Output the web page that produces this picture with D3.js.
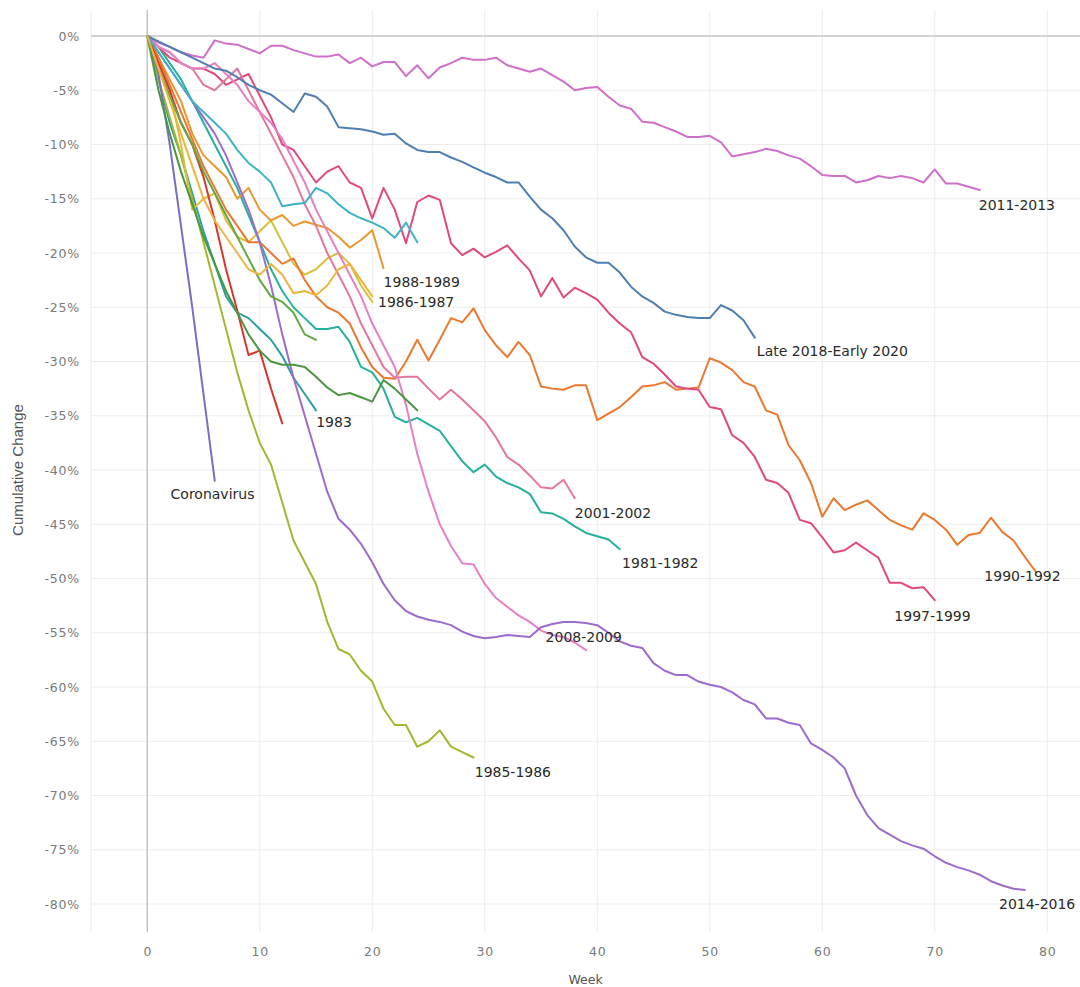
<!DOCTYPE html>
<html><head><meta charset="utf-8">
<script src="https://cdn.jsdelivr.net/npm/d3@7/dist/d3.min.js"></script>
<style>body{margin:0;background:#fff;} svg{display:block;}</style>
</head><body><svg id="chart" width="1080" height="987"></svg>
<script>
// ---------- data ----------
const weekTicks = [0, 10, 20, 30, 40, 50, 60, 70, 80];
const changeTicks = [0, -5, -10, -15, -20, -25, -30, -35, -40, -45, -50, -55, -60, -65, -70, -75, -80];

// weekly cumulative change (%), index = week
const coronavirus = [0, -3.5, -10, -17.5, -25, -33, -41];
const crash1985_1986 = [0, -4, -7.5, -11, -15, -19, -23, -27, -31, -34.5, -37.5, -39.5, -43, -46.5, -48.5, -50.5, -54, -56.5, -57, -58.5, -59.5, -62, -63.5, -63.5, -65.5, -65, -64, -65.5, -66, -66.5];
const crash2014_2016 = [0, -1.5, -3, -4.5, -6, -7.5, -9, -11, -13.5, -16, -19, -23, -27.5, -31.5, -35, -38.5, -42, -44.5, -45.5, -46.8, -48.5, -50.5, -52, -53, -53.5, -53.8, -54, -54.3, -54.9, -55.3, -55.5, -55.4, -55.2, -55.3, -55.4, -54.5, -54.2, -54, -54, -54.1, -54.3, -55, -55.8, -56.2, -56.4, -57.8, -58.5, -58.9, -58.9, -59.5, -59.8, -60, -60.5, -61.2, -61.6, -62.9, -62.9, -63.3, -63.5, -65.2, -65.8, -66.5, -67.5, -70, -71.8, -73, -73.6, -74.2, -74.6, -74.9, -75.6, -76.2, -76.6, -76.9, -77.3, -77.9, -78.3, -78.6, -78.7];
const crash2008_2009 = [0, -1, -1.5, -2.5, -3, -3, -2.5, -3.5, -4.5, -6, -7, -8, -9.5, -11.5, -13.5, -16, -18, -20, -22, -24, -26.5, -28.5, -30.5, -34, -38.5, -42, -45, -47, -48.6, -48.7, -50.5, -51.8, -52.6, -53.4, -54, -54.8, -55.2, -55.4, -55.9, -56.6];
const crash2001_2002 = [0, -1, -1.5, -2.5, -3, -4.5, -5, -4, -3, -5, -7, -9, -11, -13, -15.5, -17.5, -20, -22, -24, -26.5, -28.5, -30.5, -31.5, -31.4, -31.4, -32.5, -33.5, -32.6, -33.5, -34.5, -35.5, -37, -38.8, -39.5, -40.5, -41.6, -41.7, -40.9, -42.6];
const crash1997_1999 = [0, -1, -2, -2.5, -3, -3, -3.5, -4.5, -4, -3.5, -5.5, -7.5, -10, -10.5, -12, -13.5, -12.5, -12, -13.5, -14, -16.8, -14, -16, -19.1, -15.3, -14.7, -15.1, -19.1, -20.2, -19.6, -20.4, -19.9, -19.3, -20.5, -21.6, -24, -22.3, -24.1, -23.2, -23.7, -24.3, -25.5, -26.5, -27.3, -29.6, -30.2, -31.2, -32.3, -32.5, -32.6, -34.2, -34.4, -36.8, -37.5, -38.8, -40.9, -41.2, -42.1, -44.6, -44.9, -46.2, -47.6, -47.4, -46.7, -47.4, -48.1, -50.4, -50.4, -50.9, -50.8, -52];
const crash2011_2013 = [0, -0.6, -1, -1.5, -1.8, -2, -0.4, -0.7, -0.8, -1.2, -1.6, -0.9, -0.9, -1.3, -1.6, -1.9, -1.9, -1.7, -2.5, -2, -2.8, -2.4, -2.4, -3.7, -2.7, -3.9, -2.9, -2.5, -2, -2.2, -2.2, -2, -2.7, -3, -3.3, -3, -3.6, -4.2, -5, -4.8, -4.7, -5.6, -6.4, -6.7, -7.9, -8, -8.4, -8.8, -9.3, -9.3, -9.2, -9.8, -11.1, -10.9, -10.7, -10.4, -10.6, -11, -11.3, -12, -12.8, -12.9, -12.9, -13.5, -13.3, -12.9, -13.1, -12.9, -13.1, -13.5, -12.3, -13.6, -13.6, -13.9, -14.2];
const crash2018_2020 = [0, -0.5, -1, -1.5, -2, -2.5, -3, -3.2, -3.8, -4.5, -5, -5.4, -6.2, -7, -5.3, -5.6, -6.5, -8.4, -8.5, -8.6, -8.8, -9.1, -9, -9.9, -10.5, -10.7, -10.7, -11.2, -11.6, -12.1, -12.6, -13, -13.5, -13.5, -14.8, -16, -16.8, -17.9, -19.4, -20.4, -20.9, -20.9, -21.8, -23.1, -24, -24.6, -25.4, -25.7, -25.9, -26, -26, -24.8, -25.3, -26.2, -27.8];
const crash1990_1992 = [0, -2, -4.5, -7, -9.5, -12, -14, -16, -17.5, -19, -19, -20, -21, -20.5, -22.5, -24, -25, -25.5, -26.5, -28.7, -30.5, -31.5, -31.6, -30, -28, -29.9, -28, -26, -26.4, -25.1, -27.1, -28.5, -29.6, -28.2, -29.4, -32.3, -32.5, -32.6, -32.2, -32.2, -35.4, -34.8, -34.2, -33.3, -32.3, -32.2, -31.9, -32.6, -32.5, -32.4, -29.7, -30.1, -30.8, -31.9, -32.3, -34.5, -34.9, -37.7, -39.1, -41.2, -44.3, -42.6, -43.7, -43.2, -42.8, -43.7, -44.6, -45.1, -45.5, -44, -44.6, -45.5, -46.9, -46, -45.8, -44.4, -45.7, -46.5, -48, -49.4];
const crash1981_1982 = [0, -1, -2.5, -4, -6, -8, -10, -12, -14, -16.5, -19, -21.5, -23.5, -25, -26, -27, -27, -26.8, -28.2, -30.5, -31, -32.5, -35.1, -35.6, -35.2, -35.8, -36.4, -37.8, -39.2, -40.2, -39.5, -40.6, -41.2, -41.6, -42.2, -43.9, -44, -44.5, -45.2, -45.8, -46.1, -46.4, -47.3];
const crash1983 = [0, -4, -8, -11, -14.5, -18, -21, -24, -25.5, -26, -27, -28, -29.5, -31.5, -33, -34.5];
const crash1988_1989 = [0, -2, -4, -6, -9, -11, -12, -13, -15, -14, -16, -17, -16.5, -17.5, -17.1, -17.4, -17.7, -18.5, -19.5, -18.8, -17.9, -21.4];
const crash1986_1987 = [0, -2, -5, -10, -16, -15, -14.5, -17, -18.5, -19, -18, -17, -19, -21, -22, -21.5, -20.5, -20, -21, -23, -24.5];
const unlabeledRed = [0, -2.5, -5, -8, -10, -13, -17, -21.5, -25.3, -29.4, -29, -32.5, -35.7];
const unlabeledCyan = [0, -1.5, -3, -4.5, -6, -7, -8, -9, -10.5, -11.7, -12.5, -13.5, -15.7, -15.5, -15.4, -14, -14.5, -15.5, -16.3, -16.8, -17.2, -17.7, -18.6, -17.2, -19];
const unlabeledGreen = [0, -3, -5.5, -8, -10, -12.5, -14.5, -16.5, -18.5, -20.5, -22.5, -24, -24.5, -25.5, -27.5, -28];
const unlabeledDarkGreen = [0, -5, -9, -12.5, -15.5, -18.5, -21, -23.5, -25.5, -27.5, -29, -30, -30.3, -30.3, -30.5, -31.4, -32.4, -33.1, -32.9, -33.3, -33.7, -31.7, -32.5, -33.5, -34.5];
const unlabeledGold = [0, -3, -6, -9, -12, -15, -17, -18.5, -20, -21.5, -22, -21, -22, -23.7, -23.5, -23.9, -23, -21.5, -21, -22.5, -24];

const seriesNames = ["1981-1982", "1983", "1985-1986", "1986-1987", "1988-1989", "1990-1992", "1997-1999", "2001-2002", "2008-2009", "2011-2013", "2014-2016", "Late 2018-Early 2020", "Coronavirus", "", "", "", "", ""];
const seriesValues = [crash1981_1982, crash1983, crash1985_1986, crash1986_1987, crash1988_1989, crash1990_1992, crash1997_1999, crash2001_2002, crash2008_2009, crash2011_2013, crash2014_2016, crash2018_2020, coronavirus, unlabeledRed, unlabeledCyan, unlabeledGreen, unlabeledDarkGreen, unlabeledGold];
const seriesColors = ["#27b09c", "#2a9fa6", "#a8b52e", "#d8c03a", "#e99830", "#ec772e", "#e1487c", "#e4769f", "#e77fc4", "#cf6fca", "#9c6bcc", "#4f7fb1", "#7a6fc2", "#d7362d", "#3cb4c6", "#63a843", "#4b9640", "#eeb43e"];
// label anchor (week, change %) for each named series
const labelWeeks = [45.6, 16.6, 32.5, 23.9, 24.4, 77.8, 69.8, 41.4, 38.8, 77.3, 79.1, 60.9, 5.8];
const labelChanges = [-48.6, -35.6, -67.8, -24.5, -22.7, -49.8, -53.5, -44.0, -55.4, -15.6, -80.0, -29.0, -42.2];

// ---------- drawing ----------
const svg = d3.select("#chart");
const x = d3.scaleLinear().domain([-5, 85]).range([91, 1103.5]);
const y = d3.scaleLinear().domain([0, -80]).range([36, 904]);
const panelTop = y(2.4), panelBottom = y(-82.6), panelLeft = x(-5), panelRight = 1080;

const grid = svg.append("g");
grid.selectAll(".vg").data(weekTicks).join("line")
  .attr("x1", d => x(d)).attr("x2", d => x(d)).attr("y1", panelTop).attr("y2", panelBottom)
  .attr("stroke", "#ececec").attr("stroke-width", 1);
grid.selectAll(".hg").data(changeTicks).join("line")
  .attr("x1", panelLeft).attr("x2", panelRight).attr("y1", d => y(d)).attr("y2", d => y(d))
  .attr("stroke", "#ececec").attr("stroke-width", 1);
grid.append("line").attr("x1", panelLeft).attr("x2", panelLeft).attr("y1", panelTop).attr("y2", panelBottom)
  .attr("stroke", "#ececec");
// zero lines
grid.append("line").attr("x1", x(0)).attr("x2", x(0)).attr("y1", panelTop).attr("y2", panelBottom)
  .attr("stroke", "#c6c6c6").attr("stroke-width", 1.5);
grid.append("line").attr("x1", panelLeft).attr("x2", panelRight).attr("y1", y(0)).attr("y2", y(0))
  .attr("stroke", "#c6c6c6").attr("stroke-width", 1.5);

const line = d3.line().x((d, i) => x(i)).y(d => y(d));
const lines = svg.append("g").attr("fill", "none").attr("stroke-width", 2)
  .attr("stroke-linejoin", "round").attr("stroke-linecap", "round");
seriesValues.forEach((vals, k) => {
  lines.append("path").attr("d", line(vals)).attr("stroke", seriesColors[k]);
});

// axes
const yAxis = svg.append("g").attr("transform", `translate(${panelLeft},0)`)
  .call(d3.axisLeft(y).tickValues(changeTicks).tickFormat(d => d + "%").tickSize(0).tickPadding(11));
yAxis.select(".domain").remove();
yAxis.selectAll("text").attr("font-family", "DejaVu Sans, Verdana, sans-serif").attr("font-size", 12.5)
  .attr("fill", "#7a7a7a").attr("letter-spacing", 0.8);

const xAxis = svg.append("g").attr("transform", `translate(0,${panelBottom})`)
  .call(d3.axisBottom(x).tickValues(weekTicks).tickSize(0).tickPadding(15));
xAxis.select(".domain").remove();
xAxis.selectAll("text").attr("font-family", "DejaVu Sans, Verdana, sans-serif").attr("font-size", 12.5)
  .attr("fill", "#7a7a7a").attr("letter-spacing", 0.8);

svg.append("text").attr("x", (panelLeft + panelRight) / 2).attr("y", 984).attr("text-anchor", "middle")
  .attr("font-family", "DejaVu Sans, Verdana, sans-serif").attr("font-size", 12.5).attr("fill", "#555")
  .text("Week");
svg.append("text").attr("transform", `translate(23,${y(-40)}) rotate(-90)`).attr("text-anchor", "middle")
  .attr("font-family", "Liberation Sans, Arial, sans-serif").attr("font-size", 15)
  .attr("fill", "#555").text("Cumulative Change");

// series labels
const labels = svg.append("g").attr("font-family", "DejaVu Sans, Verdana, sans-serif").attr("font-size", 14)
  .attr("fill", "#2a2a2a").attr("text-anchor", "middle").attr("dominant-baseline", "central");
labelWeeks.forEach((w, k) => {
  labels.append("text").attr("x", x(w)).attr("y", y(labelChanges[k])).text(seriesNames[k]);
});
</script>
</body></html>
